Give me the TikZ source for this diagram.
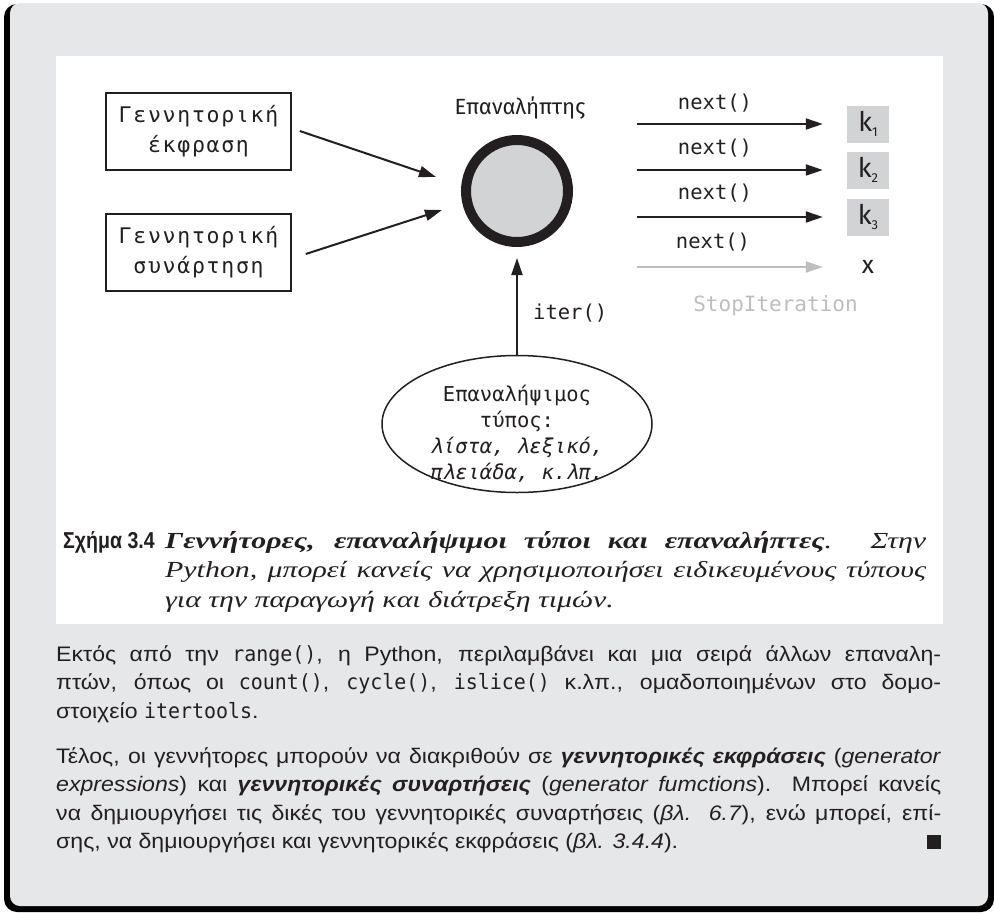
\documentclass[tikz,border=0pt]{standalone}
\usepackage{fontspec}
\setmainfont{Liberation Sans}[FakeStretch=1.1]
\setmonofont{DejaVu Sans Mono}
\newfontfamily\serifcap{Liberation Serif}[FakeStretch=1.3]
\newfontfamily\figsans{Fira Sans}
\newfontfamily\boldnarrow{Liberation Sans}[FakeStretch=0.85]
\newfontfamily\monof{DejaVu Sans Mono}
\newfontfamily\bodymono{DejaVu Sans Mono}[FakeStretch=0.95]
\newfontfamily\boxmono{DejaVu Sans Mono}[LetterSpace=8]
\usetikzlibrary{arrows.meta,shapes.geometric}
\definecolor{panel}{HTML}{E6E7E8}
\definecolor{circ}{HTML}{D1D3D4}
\definecolor{ink}{HTML}{231F20}
\definecolor{faint}{HTML}{BCBEC0}
\begin{document}
\begin{tikzpicture}[x=1pt,y=-1pt,
  arr/.style={draw=ink, line width=2pt, -{Triangle[length=17pt,width=11pt]}},
  faintarr/.style={draw=faint, line width=2pt, -{Triangle[length=17pt,width=11pt]}},
  genbox/.style={draw=ink, line width=1.5pt, minimum width=185pt, minimum height=77pt, align=center, inner sep=0pt, font=\boxmono\fontsize{21.5}{30}\selectfont, text=ink},
  kbox/.style={fill=circ, minimum width=42pt, minimum height=37pt, inner sep=0pt, font=\figsans\fontsize{27}{27}\selectfont, text=ink},
  monolbl/.style={font=\monof\fontsize{20.5}{24}\selectfont, text=ink, inner sep=0pt}
]
\useasboundingbox (0,0) rectangle (994,913);
% frame
\fill[black, rounded corners=13pt] (4,4) rectangle (994,912);
\fill[panel, rounded corners=10pt] (10,3) rectangle (988,906);
\fill[white] (56,56) rectangle (943,624);

% generator boxes
\node[genbox] (g1) at (198.5,131.5) {Γεννητορική\\έκφραση};
\node[genbox] (g2) at (198.5,252.5) {Γεννητορική\\συνάρτηση};

% iterator circle
\node[circle, draw=ink, line width=10pt, fill=circ, minimum size=102pt, inner sep=0pt] (itr) at (517,191) {};
\node[font=\figsans\fontsize{22}{24}\selectfont, text=ink, inner sep=0pt] (itrlbl) at (520,108) {Επαναλήπτης};

\coordinate (e1) at (436,177);
\coordinate (e2) at (442,210);
\draw[arr] ([xshift=8pt,yshift=0.5pt]g1.east) -- (e1);
\draw[arr] ([xshift=14pt,yshift=-1.5pt]g2.east) -- (e2);

% iterable ellipse
\node[ellipse, draw=ink, line width=1.5pt, minimum width=270pt, minimum height=137pt, inner sep=0pt] (itb) at (517,424) {};
\node[align=center, font=\monof\fontsize{20.5}{26}\selectfont, text=ink, inner sep=0pt] (itbtxt) at (517,434)
  {Επαναλήψιμος\\τύπος:\\\textit{λίστα, λεξικό,}\\\textit{πλειάδα, κ.λπ.}};
\draw[arr, shorten >=11pt] (itb.north) -- (itr.south);
\node[monolbl, anchor=west] (iterlbl) at (533,313) {iter()};

% outputs
\node[kbox] (k1) at (868,124) {k\raisebox{-5pt}{\fontsize{13}{13}\selectfont 1}};
\node[kbox] (k2) at (868,170) {k\raisebox{-5pt}{\fontsize{13}{13}\selectfont 2}};
\node[kbox] (k3) at (868,217) {k\raisebox{-5pt}{\fontsize{13}{13}\selectfont 3}};
\node[minimum width=42pt, inner sep=0pt, font=\figsans\fontsize{25}{25}\selectfont, text=ink] (xx) at (868,267) {x};

\coordinate (s1) at (637,124);
\coordinate (s2) at (637,170);
\coordinate (s3) at (637,217);
\coordinate (s4) at (637,267);
\draw[arr, shorten >=24pt] (s1) -- (k1.west);
\draw[arr, shorten >=24pt] (s2) -- (k2.west);
\draw[arr, shorten >=24pt] (s3) -- (k3.west);
\draw[faintarr, shorten >=24pt] (s4) -- (xx.west);

\node[monolbl] (n1) at (715,103) {next()};
\node[monolbl] (n2) at (715,148) {next()};
\node[monolbl] (n3) at (715,193) {next()};
\node[monolbl] (n4) at (713,242) {next()};
\node[font=\monof\fontsize{21}{24}\selectfont, text=faint, inner sep=0pt] (stop) at (775.5,306) {StopIteration};

% caption
\node[anchor=base west, inner sep=0pt, font=\boldnarrow\bfseries\fontsize{23}{24}\selectfont, text=ink] (capl) at (63,548) {Σχήμα 3.4};
\node[anchor=base west, inner sep=0pt, text=ink] (capt) at (165,548)
  {\parbox[t]{761pt}{\serifcap\itshape\fontsize{23}{29.5}\selectfont
  {\bfseries Γεννήτορες, επαναλήψιμοι τύποι και επαναλήπτες}. Στην\linebreak
  Python, μπορεί κανείς να χρησιμοποιήσει ειδικευμένους τύπους\linebreak
  για την παραγωγή και διάτρεξη τιμών.}};

% body text
\node[anchor=base west, inner sep=0pt, text=ink] (para1) at (56,661)
  {\parbox[t]{885pt}{\fontsize{21}{28.5}\selectfont
  Εκτός από την {\bodymono range()}, η Python, περιλαμβάνει και μια σειρά άλλων επαναλη-\linebreak
  πτών, όπως οι {\bodymono count()}, {\bodymono cycle()}, {\bodymono islice()} κ.λπ., ομαδοποιημένων στο δομο-\linebreak
  στοιχείο {\bodymono itertools}.}};
\node[anchor=base west, inner sep=0pt, text=ink] (para2) at (56,763)
  {\parbox[t]{885pt}{\fontsize{21}{28.5}\selectfont
  Τέλος, οι γεννήτορες μπορούν να διακριθούν σε \textbf{\textit{γεννητορικές εκφράσεις}} (\textit{generator}\linebreak
  \textit{expressions}) και \textbf{\textit{γεννητορικές συναρτήσεις}} (\textit{generator fumctions}). Μπορεί κανείς\linebreak
  να δημιουργήσει τις δικές του γεννητορικές συναρτήσεις (\textit{βλ. 6.7}), ενώ μπορεί, επί-\linebreak
  σης, να δημιουργήσει και γεννητορικές εκφράσεις (\textit{βλ. 3.4.4}).\hfill\rule{14pt}{14pt}}};
\end{tikzpicture}
\end{document}
